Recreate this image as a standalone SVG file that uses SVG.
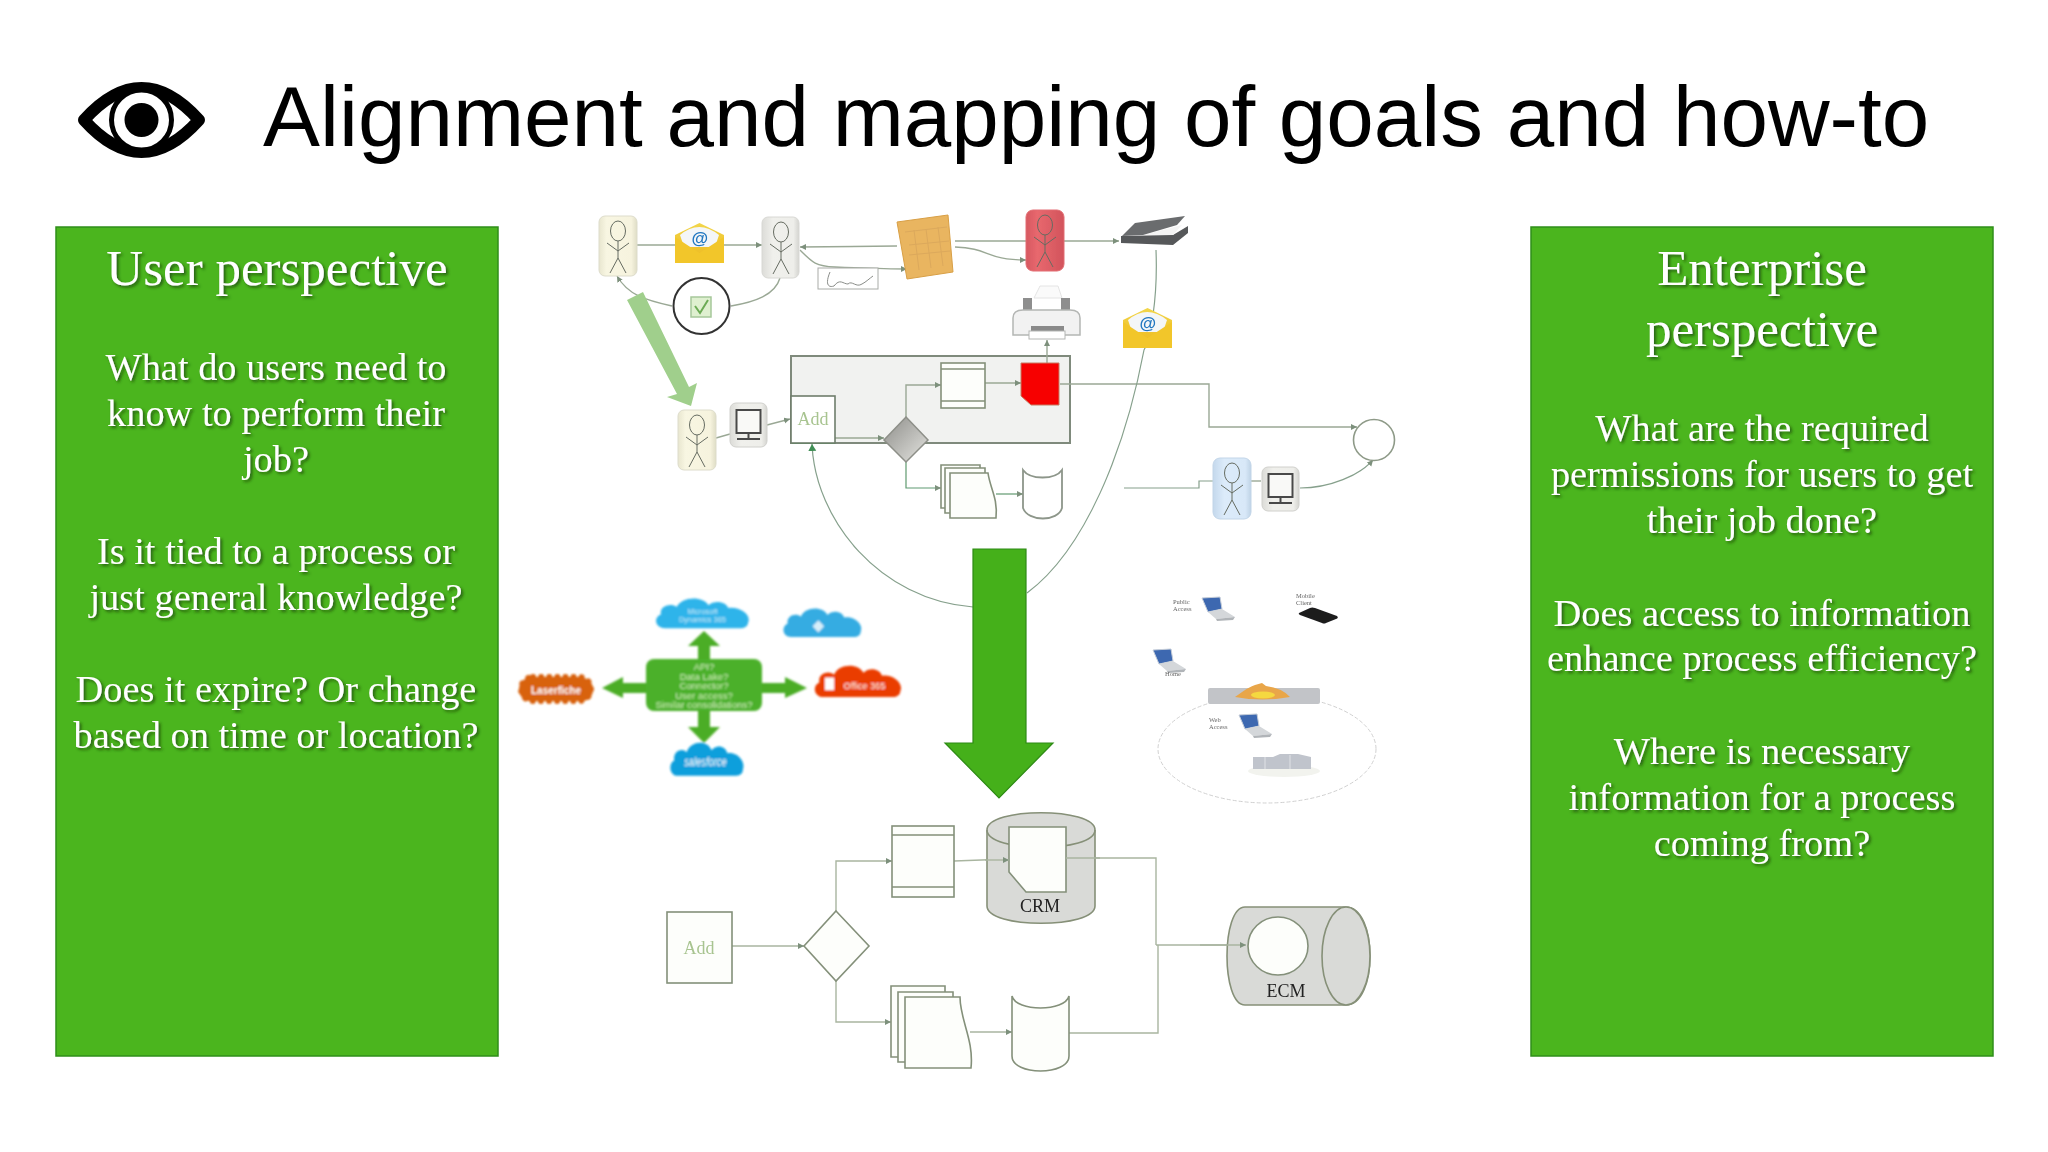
<svg xmlns="http://www.w3.org/2000/svg" xmlns:xlink="http://www.w3.org/1999/xlink" width="2048" height="1152" viewBox="0 0 2048 1152">
<style>
.panel{fill:#4bb51e;stroke:#2f8f1a;stroke-width:1.5}
.h{font:51px "Liberation Serif",serif;fill:#fff;text-anchor:middle;filter:url(#shadow)}
.b{font:38.4px "Liberation Serif",serif;fill:#fff;text-anchor:middle;filter:url(#shadow)}
.ln{fill:none;stroke:#9aa895;stroke-width:1.4}
.ln2{fill:none;stroke:#86a08c;stroke-width:1.2}
.ln3{fill:none;stroke:#a9b5a0;stroke-width:1.4}
.arr{marker-end:url(#ah)}
.arg{marker-end:url(#ahg)}
.shp{fill:#fdfefb;stroke:#84907a;stroke-width:1.6}
.shp2{fill:#fff;stroke:#8d968a;stroke-width:1.8}
.gr{fill:#d9dad7;stroke:#869078;stroke-width:1.6}
.fig{fill:none;stroke:#666c62;stroke-width:1}
.ga{fill:#4bad26}
.tiny{font:6.5px "Liberation Serif",serif;fill:#666}
.ct{font-family:"Liberation Sans",sans-serif;fill:#fff;text-anchor:middle}
</style>
<defs>
<filter id="shadow" x="-5%" y="-20%" width="110%" height="140%"><feDropShadow dx="2" dy="2" stdDeviation="1.400" flood-color="#1a5008" flood-opacity=".85"/></filter>
<filter id="soft" x="-5%" y="-5%" width="110%" height="110%"><feGaussianBlur stdDeviation="0.6"/></filter>
<filter id="soft2" x="-10%" y="-10%" width="120%" height="120%"><feGaussianBlur stdDeviation="1"/></filter>
<marker id="ah" markerWidth="7" markerHeight="7" refX="6" refY="3" orient="auto" markerUnits="userSpaceOnUse"><path d="M0 0L6 3L0 6Z" fill="#7d907c"/></marker>
<marker id="ahg" markerWidth="9" markerHeight="9" refX="7" refY="4" orient="auto" markerUnits="userSpaceOnUse"><path d="M0 0L7 4L0 8Z" fill="#3f8f55"/></marker>
<linearGradient id="cream" x1="0" x2="1"><stop offset="0" stop-color="#e8e6cf"/><stop offset=".2" stop-color="#f8f6e2"/><stop offset=".85" stop-color="#f6f3de"/><stop offset="1" stop-color="#dfddc6"/></linearGradient>
<linearGradient id="gray" x1="0" x2="1"><stop offset="0" stop-color="#dcdcd8"/><stop offset=".3" stop-color="#f0f0ec"/><stop offset=".85" stop-color="#eeeeea"/><stop offset="1" stop-color="#d4d4d0"/></linearGradient>
<linearGradient id="red" x1="0" x2="1"><stop offset="0" stop-color="#d65860"/><stop offset=".3" stop-color="#e8686e"/><stop offset="1" stop-color="#d2545c"/></linearGradient>
<linearGradient id="blue" x1="0" x2="1"><stop offset="0" stop-color="#c4d8ec"/><stop offset=".3" stop-color="#dcebfa"/><stop offset=".85" stop-color="#d8e8f8"/><stop offset="1" stop-color="#bfd3e6"/></linearGradient>
<linearGradient id="dia" x1="0" x2="1" y1="0" y2="1"><stop offset="0" stop-color="#8e8e8a"/><stop offset="1" stop-color="#e4e4e0"/></linearGradient>
<linearGradient id="env" x1="0" x2="0" y1="0" y2="1"><stop offset="0" stop-color="#f2d64a"/><stop offset="1" stop-color="#eeb81c"/></linearGradient>
<g id="stick" class="fig"><ellipse cx="19" cy="15" rx="7.500" ry="10"/><path d="M19 25V42M8 27L19 35L30 27M19 42L11 57M19 42L27 57"/></g>
<g id="mon"><rect width="37" height="44" rx="6" fill="url(#gray)" stroke="#d0d0cc"/><rect x="6.500" y="7" width="24" height="23" fill="#f9f9f7" stroke="#4a4a48" stroke-width="2"/><path d="M18.500 30V36M7 36H30" stroke="#4a4a48" stroke-width="2"/></g>
<g id="mail"><path d="M0 12L24.500 0L49 12V40H0Z" fill="url(#env)"/><path d="M5 12Q24 -4 44 12L40 24H9Z" fill="#f4f6f8"/><path d="M0 14L24.500 30L49 14V40H0Z" fill="#f2c62c"/><text x="24.500" y="21" text-anchor="middle" font-family="Liberation Sans,sans-serif" font-weight="bold" font-style="italic" font-size="17" fill="#2076c0">@</text></g>
<g id="laptop"><path d="M0 1L18 0L20 12L6 15Z" fill="#3c68b0" stroke="#c4ccd8"/><path d="M6 15L20 12L33 20L14 22Z" fill="#d4d7da"/><path d="M14 22L33 20L31 23L15 24Z" fill="#b0b4b8"/></g>
<path id="cloud" d="M12 34C2 34 0 22 8 19C6 10 18 6 24 11C28 0 50 -2 56 9C62 3 74 5 76 12C88 10 100 20 96 28C96 32 92 34 88 34Z"/>
</defs>

<rect width="2048" height="1152" fill="#fff"/>

<g id="title">
<text x="263" y="146" font-family="Liberation Sans,sans-serif" font-size="85.400" fill="#000">Alignment and mapping of goals and how-to</text>
</g>
<g id="eye">
<path d="M84 120Q141.500 56 199 120Q141.500 184 84 120Z" fill="#fff" stroke="#000" stroke-width="12" stroke-linejoin="round"/>
<circle cx="141.500" cy="120" r="30" fill="#fff" stroke="#000" stroke-width="5"/>
<circle cx="141.500" cy="120" r="17" fill="#000"/>
</g>

<g id="user-perspective">
<rect class="panel" x="56" y="227" width="442" height="829"/>
<text class="h" x="277" y="285">User perspective</text>
<text class="b" x="276" y="380">What do users need to</text>
<text class="b" x="276" y="426">know to perform their</text>
<text class="b" x="276" y="472">job?</text>
<text class="b" x="276" y="564">Is it tied to a process or</text>
<text class="b" x="276" y="610">just general knowledge?</text>
<text class="b" x="276" y="702">Does it expire? Or change</text>
<text class="b" x="276" y="748">based on time or location?</text>
</g>
<g id="enterprise-perspective">
<rect class="panel" x="1531" y="227" width="462" height="829"/>
<text class="h" x="1762" y="285">Enterprise</text>
<text class="h" x="1762" y="346">perspective</text>
<text class="b" x="1762" y="441">What are the required</text>
<text class="b" x="1762" y="487">permissions for users to get</text>
<text class="b" x="1762" y="533">their job done?</text>
<text class="b" x="1762" y="626">Does access to information</text>
<text class="b" x="1762" y="671">enhance process efficiency?</text>
<text class="b" x="1762" y="764">Where is necessary</text>
<text class="b" x="1762" y="810">information for a process</text>
<text class="b" x="1762" y="856">coming from?</text>
</g>

<g filter="url(#soft)">
<g id="process-box"><rect x="791" y="356" width="279" height="87" fill="#f1f2f0" stroke="#7f8a7c" stroke-width="2"/></g>

<g id="connectors-top">
<path class="ln arr" d="M637 245H762"/>
<path class="ln arr" d="M897 246L800 247"/>
<path class="ln arr" d="M800 250C812 262 815 266 835 267C860 268 885 269 907 269"/>
<path class="ln arr" d="M955 241H1119"/>
<path class="ln arr" d="M955 247C990 248 985 260 1026 260"/>
<path class="ln arr" d="M672 306C645 300 628 295 617 276"/>
<path class="ln" d="M731 306C755 302 775 295 780 278"/>
<path class="ln arr" d="M1047 363V340"/>
<path class="ln arr" d="M1060 384H1209V427H1357"/>
<path class="ln arr" d="M906 417V385H941"/>
<path class="ln arr" d="M985 383H1021"/>
<path class="ln arr" d="M835 438H884"/>
<path class="ln" d="M716 438L730 434"/>
<path class="ln arr" d="M767 425L790 419"/>
<path class="ln2 arr" d="M906 462V488H941" style="stroke:#5f9a70"/>
<path class="ln2 arr" d="M996 494H1023" style="stroke:#5f9a70"/>
<path class="ln2" d="M1124 488H1199V481H1213"/>
<path class="ln" d="M1251 481H1261"/>
<path class="ln2 arr" d="M1300 488C1330 488 1360 475 1373 460"/>
<path class="ln2 arg" d="M973 607C880 600 815 520 812 444"/>
<path d="M835 443H792" fill="none" stroke="#4f9a5a" stroke-width="2"/>
<path class="ln2" d="M1156 250C1158 300 1150 340 1144 350C1125 450 1085 550 1027 593"/>
</g>
<g id="connectors-bottom">
<path class="ln3 arr" d="M732 946H804"/>
<path class="ln3 arr" d="M836 911V861H892"/>
<path class="ln3 arr" d="M836 981V1022H891"/>
<path class="ln3 arr" d="M954 861L1009 859"/>
<path class="ln3" d="M1066 858H1156V945"/>
<path class="ln3" d="M1069 1033H1158V945"/>
<path class="ln3 arr" d="M1156 945H1246"/>
<path class="ln3 arr" d="M970 1032H1012"/>
</g>

<g id="user-1"><rect x="599" y="216" width="38" height="60" rx="6" fill="url(#cream)" stroke="#dddccb"/><use href="#stick" x="599" y="216"/></g>
<g id="mail-1"><use href="#mail" x="675" y="223"/></g>
<g id="user-2"><rect x="762" y="217" width="37" height="61" rx="6" fill="url(#gray)" stroke="#d8d8d4"/><use href="#stick" x="762" y="217"/></g>
<g id="signature"><rect x="818" y="268" width="60" height="21" fill="#fff" stroke="#a9aca8"/><path d="M830 272C825 284 828 288 834 286C840 278 843 284 848 284C852 280 856 288 862 284C866 282 870 278 873 276" fill="none" stroke="#8a8d89"/></g>
<g id="form"><path d="M897 222L948 215L953 272L907 279Z" fill="#e9b560" stroke="#d89f45"/><path d="M905 232L947 227M914 230L919 270M926 229L931 268M938 227L943 266M909 245L949 241M909 255L950 251" stroke="#dca95c" fill="none"/></g>
<g id="user-red"><rect x="1026" y="210" width="38" height="61" rx="7" fill="url(#red)" stroke="#e26d72"/><use href="#stick" x="1026" y="210"/></g>
<g id="scanner"><path d="M1121 236V243L1173 245L1188 233V226L1173 235Z" fill="#56585a"/><path d="M1143 235L1182 225L1173 235Z" fill="#f4f4f4"/><path d="M1135 223L1185 216L1177 225L1143 235L1122 236Z" fill="#6a6c6e"/></g>
<g id="check"><circle cx="701.500" cy="306" r="28" fill="#fff" stroke="#333" stroke-width="2"/><rect x="691" y="297" width="20" height="20" fill="#dff0d0" stroke="#a6c89a" stroke-width="1.500"/><path d="M695 306L700 313L708 300" fill="none" stroke="#6cab55" stroke-width="2"/></g>
<g id="printer"><path d="M1034 298L1040 286H1058L1062 298Z" fill="#fafafa" stroke="#e4e4e4"/><rect x="1023" y="298" width="9" height="12" fill="#8e8e8e"/><rect x="1061" y="298" width="9" height="12" fill="#8e8e8e"/><path d="M1013 318Q1013 310 1023 310H1070Q1080 310 1080 318V335H1013Z" fill="#f2f2f2" stroke="#b4b6b4" stroke-width="1.500"/><rect x="1031" y="326" width="33" height="6" fill="#8a8a8a"/><rect x="1029" y="331" width="36" height="8" fill="#fff" stroke="#b4b6b4"/></g>
<g id="mail-2"><use href="#mail" x="1123" y="308"/></g>
<g id="add-1"><rect x="791" y="396" width="44" height="47" fill="#fff" stroke="#6f7d6c" stroke-width="1.600"/><text x="813" y="425" text-anchor="middle" font-family="Liberation Serif,serif" font-size="18" fill="#a8c490">Add</text></g>
<g id="decision-1"><path d="M906 417L928 440L906 462L884 440Z" fill="url(#dia)" stroke="#8d8f88" stroke-width="1.500"/></g>
<g id="card-1"><rect class="shp" x="941" y="363" width="44" height="45"/><path class="shp" d="M941 369H985M941 401H985"/></g>
<g id="doc-red"><path d="M1021 363H1059V405H1031L1021 396Z" fill="#f70000" stroke="#c67a60"/></g>
<g id="user-3"><rect x="678" y="410" width="38" height="60" rx="6" fill="url(#cream)" stroke="#dddccb"/><use href="#stick" x="678" y="410"/></g>
<g id="mon-1"><use href="#mon" x="730" y="403"/></g>
<g id="docs-1"><path class="shp" d="M941 465H980V508H941Z"/><path class="shp" d="M945 468H985V513H945Z"/><path class="shp" d="M950 473H988C990 488 998 498 996 518H950Z"/></g>
<g id="db-1"><path class="shp2" d="M1023 470C1030 480 1055 480 1062 470V508C1058 522 1028 522 1023 508Z"/></g>
<g id="end-circle"><circle cx="1374" cy="440" r="20.500" fill="#fff" stroke="#8e9a88" stroke-width="1.600"/></g>
<g id="user-blue"><rect x="1213" y="458" width="38" height="61" rx="7" fill="url(#blue)" stroke="#c2d5e8"/><use href="#stick" x="1213" y="458"/></g>
<g id="mon-2"><use href="#mon" x="1262" y="467"/></g>
</g>

<g id="handoff-arrow" filter="url(#soft)"><path d="M627 300L643 292L689 387L697 383L691 406L667 397L677 394Z" fill="#a0cf8c"/></g>

<g id="integrations" filter="url(#soft2)">
<g id="cloud-dynamics" transform="translate(653 597) scale(.99 .92)"><use href="#cloud" fill="#2fb4ea"/><text class="ct" x="50" y="19" font-size="7.500" opacity=".75">Microsoft</text><text class="ct" x="50" y="27" font-size="7.500" opacity=".75">Dynamics 365</text></g>
<g id="cloud-2" transform="translate(781 607) scale(.83 .88)"><use href="#cloud" fill="#35ace2"/><path d="M45 15L52 22L45 29L38 22Z" fill="#d5eefa"/></g>
<g id="cloud-laserfiche"><rect x="521" y="677" width="70" height="24" rx="12" fill="#d8620f" stroke="#d8620f" stroke-width="6" stroke-linecap="round" stroke-dasharray="0.100 8"/><rect x="519" y="678" width="74" height="23" rx="11" fill="#d8620f"/><text class="ct" x="556" y="694" font-size="10" font-weight="bold" fill="#f6dcc4">Laserfiche</text></g>
<g id="cloud-office" transform="translate(812 664) scale(.92 .97)"><use href="#cloud" fill="#ea3d02"/><text class="ct" x="57" y="26" font-size="10">Office 365</text><rect x="14" y="14" width="10" height="13" fill="#fff"/></g>
<g id="cloud-salesforce" transform="translate(668 741) scale(.78 1.020)"><use href="#cloud" fill="#0f9fdc"/><text class="ct" x="48" y="25" font-size="12" font-style="italic" fill="#bfe6f8">salesforce</text></g>
<g id="api-links"><path class="ga" d="M698 659V646H688L704 631L720 646H710V659ZM698 711V727H688L704 743L720 727H710V711ZM646 683H623V677L602 688L623 698V693H646ZM762 683H785V677L807 688L785 698V693H762Z"/></g>
<g id="api-box"><rect x="646" y="659" width="116" height="52" rx="8" fill="#4bb02a"/>
<g font-family="Liberation Sans,sans-serif" font-size="9.500" fill="#cfeeb8" text-anchor="middle"><text x="704" y="670">API?</text><text x="704" y="679.500">Data Lake?</text><text x="704" y="689">Connector?</text><text x="704" y="699">User access?</text><text x="704" y="708">Similar consolidations?</text></g></g>
</g>

<g id="network" filter="url(#soft)">
<ellipse cx="1267" cy="749" rx="109" ry="54" fill="#fff" stroke="#d0d0d0" stroke-dasharray="4 2"/>
<g id="firewall"><rect x="1208" y="688" width="112" height="16" rx="2" fill="#c2c4c8"/><path d="M1235 697Q1250 686 1255 685L1262 683L1266 686Q1282 688 1290 697Q1262 702 1235 697Z" fill="#e9a64a"/><ellipse cx="1263" cy="695" rx="12" ry="3.500" fill="#f5d840"/></g>
<g id="laptop-public"><use href="#laptop" x="1202" y="597"/><text class="tiny" x="1173" y="604">Public</text><text class="tiny" x="1173" y="611">Access</text></g>
<g id="tablet"><path d="M1299 613L1310 608Q1312 607 1315 608L1337 616Q1339 618 1336 619L1326 623Q1324 624 1322 623L1300 615Q1298 614 1299 613Z" fill="#1c1c1e"/><text class="tiny" x="1296" y="598">Mobile</text><text class="tiny" x="1296" y="605">Client</text></g>
<g id="laptop-home"><use href="#laptop" x="1153" y="649"/><text class="tiny" x="1165" y="676">Home</text></g>
<g id="laptop-web"><use href="#laptop" x="1239" y="714"/><text class="tiny" x="1209" y="722">Web</text><text class="tiny" x="1209" y="729">Access</text></g>
<g id="servers"><ellipse cx="1284" cy="771" rx="36" ry="6" fill="#f2f3ee"/><path d="M1253 757H1273L1280 754H1298L1311 757V769H1253Z" fill="#c0c4cc"/><path d="M1265 757V769M1290 755V769" stroke="#e0e2e6"/></g>
</g>

<g filter="url(#soft)">
<g id="add-2"><rect class="shp" x="667" y="912" width="65" height="71"/><text x="699" y="954" text-anchor="middle" font-family="Liberation Serif,serif" font-size="18" fill="#a8c490">Add</text></g>
<g id="decision-2"><path class="shp" d="M836 911L869 946L836 981L804 946Z"/></g>
<g id="card-2"><rect class="shp" x="892" y="826" width="62" height="71"/><path class="shp" d="M892 835H954M892 887H954"/></g>
<g id="crm"><path class="gr" d="M987 830C987 807 1095 807 1095 830V906C1095 929 987 929 987 906Z"/><path class="gr" d="M987 830C987 853 1095 853 1095 830" style="fill:none"/><path class="shp" d="M1009 827H1066V892H1026L1009 872Z"/><text x="1040" y="912" text-anchor="middle" font-family="Liberation Serif,serif" font-size="18" fill="#222">CRM</text></g>
<g id="docs-2"><path class="shp" d="M891 986H945V1057H891Z"/><path class="shp" d="M898 992H953V1062H898Z"/><path class="shp" d="M905 997H960C960 1020 974 1040 971 1068H905Z"/></g>
<g id="db-2"><path class="shp" d="M1012 996C1016 1012 1065 1012 1069 996V1056C1069 1076 1012 1076 1012 1056Z"/></g>
<g id="ecm"><path class="gr" d="M1245 907H1346C1378 907 1378 1005 1346 1005H1245C1221 1005 1221 907 1245 907Z"/><ellipse class="gr" cx="1346" cy="956" rx="24" ry="49"/><ellipse class="shp" cx="1278" cy="946" rx="30" ry="29"/><text x="1286" y="997" text-anchor="middle" font-family="Liberation Serif,serif" font-size="18" fill="#222">ECM</text></g>
<path class="ln3 arr" d="M1200 945H1246"/>
<path class="ln3 arr" d="M985 860H1009"/>
<path class="ln3" d="M1066 858H1100"/>
</g>

<g id="main-arrow"><path d="M973 549H1026V743H1053L999 798L945 743H973Z" fill="#45b01a" stroke="#2d8a14" stroke-width="1.200"/></g>
</svg>
